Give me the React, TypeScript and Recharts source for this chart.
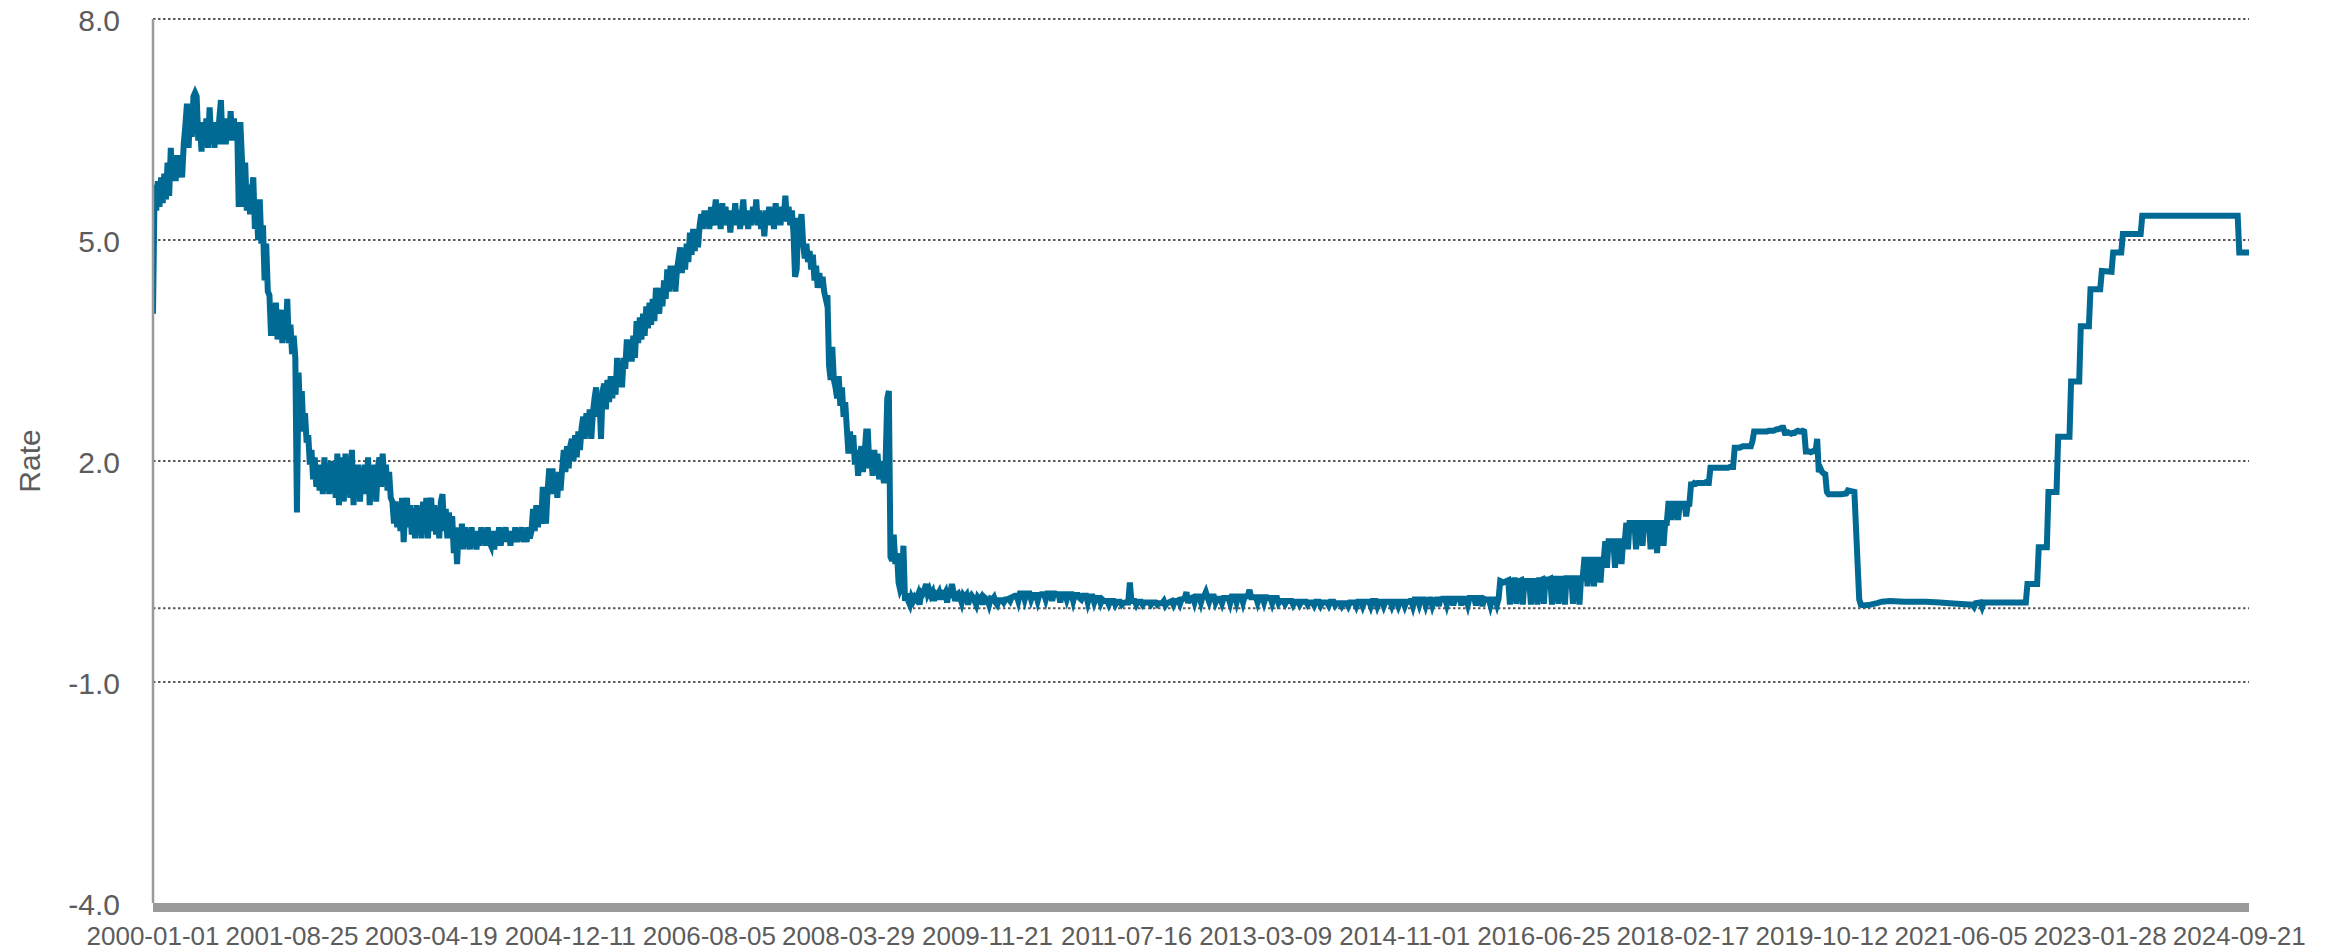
import React from 'react';
import { LineChart, Line, XAxis, YAxis, CartesianGrid } from 'recharts';

// ---------- tick labels ----------
const xTickLabels = [
  '2000-01-01', '2001-08-25', '2003-04-19', '2004-12-11', '2006-08-05', '2008-03-29',
  '2009-11-21', '2011-07-16', '2013-03-09', '2014-11-01', '2016-06-25', '2018-02-17',
  '2019-10-12', '2021-06-05', '2023-01-28', '2024-09-21',
];
const yTicks = [-4, -1, 2, 5, 8];
const gridValues = [-1, 0, 2, 5, 8];
const lastDate = '2024-11-02';

// ---------- weekly readings (each array starts on the given Saturday) ----------
const rates2000 = [4.0, 5.75, 5.4, 5.8, 5.45, 5.85, 5.5, 5.9, 5.55, 6.05, 5.6, 6.25, 5.8, 6.1, 5.8, 6.15, 5.85, 6.1, 5.85, 6.3, 6.55, 6.85, 6.25, 6.75, 6.4, 6.95, 7.0, 6.95, 6.35, 6.6, 6.2, 6.6, 6.3, 6.65, 6.25, 6.8, 6.35, 6.6, 6.25, 6.6, 6.3, 6.65, 6.9, 6.3, 6.65, 6.3, 6.6, 6.35, 6.75, 6.35, 6.65, 6.4, 6.6];
const rates2001 = [5.45, 6.6, 6.1, 5.45, 6.05, 5.4, 5.75, 5.35, 5.6, 5.85, 5.15, 5.5, 5.0, 5.55, 4.95, 5.2, 4.45, 4.95, 4.3, 4.25, 3.7, 4.1, 3.7, 4.15, 3.65, 3.95, 4.05, 3.6, 3.95, 3.65, 4.2, 3.6, 3.85, 3.45, 3.7, 3.4, 1.3, 3.2, 2.6, 2.95, 2.4, 2.65, 2.25, 2.35, 1.95, 2.15, 1.75, 2.05, 1.65, 1.9, 1.6, 1.95];
const rates2002 = [1.55, 2.05, 1.6, 1.95, 1.55, 2.0, 1.6, 1.9, 1.5, 2.1, 1.4, 1.85, 2.05, 1.45, 2.1, 1.55, 1.9, 1.5, 2.15, 1.4, 1.85, 1.6, 1.95, 1.45, 1.9, 1.55, 1.95, 1.7, 2.05, 1.4, 1.9, 1.55, 1.95, 1.45, 1.9, 2.05, 1.65, 2.1, 1.75, 1.95, 1.6, 1.85, 1.5, 1.45, 1.15, 1.45, 1.1, 1.4, 1.05, 1.5, 0.9, 1.35];
const rates2003 = [1.5, 1.1, 1.4, 1.0, 1.35, 0.95, 1.4, 1.1, 1.35, 0.95, 1.45, 1.05, 1.5, 0.95, 1.4, 1.5, 1.05, 1.4, 1.0, 1.35, 0.95, 1.45, 1.55, 1.05, 1.35, 0.95, 1.3, 1.0, 1.25, 0.75, 1.1, 0.6, 1.05, 0.8, 1.15, 0.8, 1.1, 0.85, 1.05, 0.8, 1.1, 0.85, 1.05, 0.8, 1.05, 0.85, 1.1, 0.9, 1.05, 0.85, 1.1, 0.9];
const rates2004 = [0.85, 1.05, 0.8, 1.05, 0.9, 1.1, 0.85, 1.05, 0.95, 1.1, 0.9, 1.05, 0.85, 1.05, 0.9, 1.1, 0.9, 1.05, 0.95, 1.1, 0.9, 1.05, 0.9, 1.1, 0.95, 1.05, 1.35, 1.05, 1.4, 1.1, 1.35, 1.15, 1.65, 1.3, 1.15, 1.6, 1.9, 1.55, 1.9, 1.55, 1.8, 1.5, 1.85, 1.6, 1.9, 2.15, 1.85, 2.2, 1.9, 2.2, 2.3, 2.0];
const rates2005 = [2.35, 2.05, 2.4, 2.15, 2.45, 2.6, 2.3, 2.65, 2.35, 2.7, 2.3, 2.65, 2.85, 3.0, 2.6, 2.9, 2.3, 2.95, 3.05, 2.7, 3.1, 2.8, 3.15, 2.85, 3.15, 2.9, 3.4, 3.05, 3.35, 3.0, 3.4, 3.25, 3.65, 3.35, 3.65, 3.35, 3.7, 3.4, 3.9, 3.6, 3.95, 3.65, 4.0, 3.7, 4.1, 3.8, 4.15, 3.85, 4.2, 3.9, 4.35, 4.1, 4.0];
const rates2006 = [4.35, 4.1, 4.45, 4.2, 4.6, 4.3, 4.65, 4.35, 4.65, 4.3, 4.6, 4.75, 4.9, 4.55, 4.85, 4.6, 4.95, 4.7, 5.1, 4.8, 5.15, 4.85, 5.15, 4.9, 5.2, 5.35, 5.15, 5.4, 5.2, 5.35, 5.15, 5.45, 5.2, 5.35, 5.55, 5.2, 5.4, 5.15, 5.5, 5.2, 5.45, 5.25, 5.4, 5.1, 5.4, 5.2, 5.5, 5.2, 5.4, 5.15, 5.35, 5.55];
const rates2007 = [5.2, 5.4, 5.15, 5.35, 5.2, 5.45, 5.25, 5.55, 5.2, 5.4, 5.15, 5.35, 5.05, 5.4, 5.2, 5.45, 5.2, 5.4, 5.15, 5.5, 5.25, 5.4, 5.2, 5.45, 5.3, 5.6, 5.25, 5.45, 5.2, 5.4, 5.1, 4.5, 4.6, 5.3, 5.2, 5.35, 4.95, 4.75, 4.95, 4.7, 4.85, 4.6, 4.8, 4.45, 4.65, 4.35, 4.55, 4.35, 4.5, 4.3, 4.2, 4.25];
const rates2008 = [3.3, 3.1, 3.55, 3.1, 3.0, 2.85, 3.15, 2.75, 3.0, 2.6, 2.8, 2.45, 2.1, 2.4, 2.1, 2.35, 1.95, 2.15, 1.8, 2.05, 2.2, 1.85, 2.1, 2.4, 2.4, 1.9, 2.05, 1.8, 2.15, 1.9, 2.1, 1.75, 2.0, 1.85, 1.7, 2.0, 2.85, 2.95, 0.7, 0.65, 1.0, 0.6, 0.75, 0.35, 0.25, 0.3, 0.85, 0.1, 0.2, 0.1, 0.05, 0.15];
const rates2009 = [0.1, 0.15, 0.12, 0.18, 0.05, 0.22, 0.2, 0.25, 0.33, 0.2, 0.25, 0.18, 0.22, 0.1, 0.2, 0.18, 0.22, 0.12, 0.2, 0.18, 0.22, 0.08, 0.22, 0.2, 0.33, 0.22, 0.1, 0.18, 0.2, 0.15, 0.08, 0.18, 0.15, 0.18, 0.05, 0.15, 0.18, 0.15, 0.1, 0.05, 0.15, 0.12, 0.15, 0.05, 0.15, 0.13, 0.12, 0.05, 0.13, 0.12, 0.15, 0.08];
const rates2010 = [0.05, 0.11, 0.11, 0.11, 0.08, 0.12, 0.12, 0.13, 0.1, 0.15, 0.16, 0.17, 0.17, 0.1, 0.2, 0.2, 0.2, 0.12, 0.2, 0.2, 0.2, 0.12, 0.18, 0.18, 0.18, 0.1, 0.18, 0.19, 0.19, 0.19, 0.12, 0.2, 0.2, 0.2, 0.1, 0.2, 0.2, 0.19, 0.19, 0.08, 0.19, 0.19, 0.19, 0.12, 0.19, 0.19, 0.19, 0.1, 0.18, 0.18, 0.18, 0.14];
const rates2011 = [0.12, 0.17, 0.17, 0.17, 0.08, 0.16, 0.16, 0.16, 0.08, 0.14, 0.14, 0.14, 0.07, 0.12, 0.1, 0.1, 0.1, 0.05, 0.1, 0.1, 0.1, 0.05, 0.09, 0.09, 0.09, 0.05, 0.07, 0.08, 0.08, 0.08, 0.35, 0.1, 0.1, 0.1, 0.05, 0.09, 0.09, 0.09, 0.05, 0.08, 0.08, 0.08, 0.08, 0.05, 0.08, 0.08, 0.08, 0.05, 0.07, 0.07, 0.07, 0.1, 0.04];
const rates2012 = [0.07, 0.08, 0.09, 0.1, 0.05, 0.1, 0.1, 0.11, 0.06, 0.12, 0.13, 0.14, 0.22, 0.07, 0.14, 0.14, 0.15, 0.08, 0.16, 0.16, 0.16, 0.08, 0.16, 0.17, 0.22, 0.15, 0.09, 0.16, 0.16, 0.16, 0.08, 0.13, 0.13, 0.13, 0.07, 0.14, 0.14, 0.14, 0.14, 0.07, 0.16, 0.16, 0.16, 0.08, 0.16, 0.16, 0.16, 0.08, 0.16, 0.16, 0.17, 0.25];
const rates2013 = [0.15, 0.15, 0.15, 0.15, 0.08, 0.15, 0.15, 0.15, 0.08, 0.15, 0.15, 0.14, 0.14, 0.07, 0.14, 0.14, 0.14, 0.07, 0.1, 0.1, 0.1, 0.06, 0.1, 0.1, 0.1, 0.1, 0.05, 0.09, 0.09, 0.09, 0.05, 0.09, 0.09, 0.09, 0.09, 0.05, 0.08, 0.08, 0.08, 0.04, 0.09, 0.09, 0.09, 0.04, 0.08, 0.08, 0.08, 0.08, 0.04, 0.09, 0.09, 0.09];
const rates2014 = [0.04, 0.07, 0.07, 0.07, 0.03, 0.07, 0.07, 0.07, 0.03, 0.08, 0.08, 0.08, 0.08, 0.03, 0.09, 0.09, 0.09, 0.03, 0.09, 0.09, 0.09, 0.09, 0.03, 0.1, 0.1, 0.1, 0.03, 0.09, 0.09, 0.09, 0.03, 0.09, 0.09, 0.09, 0.09, 0.03, 0.09, 0.09, 0.09, 0.03, 0.09, 0.09, 0.09, 0.03, 0.09, 0.09, 0.1, 0.1, 0.03, 0.12, 0.12, 0.12];
const rates2015 = [0.05, 0.12, 0.12, 0.12, 0.04, 0.11, 0.12, 0.12, 0.04, 0.11, 0.12, 0.12, 0.03, 0.12, 0.13, 0.13, 0.13, 0.05, 0.13, 0.13, 0.13, 0.04, 0.13, 0.13, 0.13, 0.13, 0.04, 0.13, 0.13, 0.13, 0.05, 0.14, 0.14, 0.14, 0.14, 0.04, 0.14, 0.14, 0.14, 0.03, 0.13, 0.12, 0.12, 0.12, 0.04, 0.12, 0.12, 0.12, 0.05, 0.13, 0.37, 0.36];
const rates2016 = [0.35, 0.36, 0.37, 0.38, 0.05, 0.37, 0.38, 0.38, 0.06, 0.37, 0.37, 0.38, 0.05, 0.37, 0.37, 0.37, 0.37, 0.05, 0.37, 0.37, 0.37, 0.05, 0.38, 0.38, 0.39, 0.06, 0.39, 0.39, 0.39, 0.4, 0.05, 0.4, 0.4, 0.4, 0.06, 0.4, 0.4, 0.4, 0.05, 0.41, 0.41, 0.41, 0.41, 0.06, 0.41, 0.41, 0.41, 0.05, 0.41, 0.41, 0.66, 0.66, 0.3];
const rates2017 = [0.66, 0.66, 0.66, 0.3, 0.66, 0.66, 0.66, 0.35, 0.66, 0.66, 0.91, 0.55, 0.91, 0.91, 0.91, 0.91, 0.55, 0.91, 0.91, 0.91, 0.6, 0.91, 0.91, 1.16, 0.8, 1.16, 1.16, 1.16, 1.16, 0.8, 1.16, 1.16, 1.16, 0.85, 1.16, 1.16, 1.16, 1.16, 0.8, 1.16, 1.16, 1.16, 0.75, 1.16, 1.16, 1.16, 0.85, 1.16, 1.16, 1.42, 1.42, 1.2];
const rates2018 = [1.42, 1.42, 1.42, 1.2, 1.42, 1.42, 1.42, 1.42, 1.25, 1.42, 1.42, 1.68, 1.68, 1.7, 1.69, 1.7, 1.7, 1.7, 1.7, 1.7, 1.71, 1.7, 1.7, 1.91, 1.91, 1.91, 1.91, 1.91, 1.91, 1.91, 1.91, 1.91, 1.91, 1.91, 1.91, 1.92, 1.92, 1.92, 2.18, 2.18, 2.18, 2.18, 2.19, 2.2, 2.2, 2.2, 2.2, 2.2, 2.2, 2.27, 2.4, 2.4];
const rates2019 = [2.4, 2.4, 2.4, 2.4, 2.4, 2.4, 2.4, 2.41, 2.41, 2.41, 2.41, 2.42, 2.43, 2.43, 2.44, 2.45, 2.45, 2.38, 2.38, 2.39, 2.38, 2.37, 2.38, 2.38, 2.4, 2.41, 2.4, 2.4, 2.41, 2.4, 2.13, 2.13, 2.13, 2.12, 2.13, 2.14, 2.13, 2.3, 1.85, 1.9, 1.85, 1.83, 1.82, 1.58, 1.55, 1.55, 1.55, 1.55, 1.55, 1.55, 1.55, 1.55];

// ---------- 2020 onwards: readings at the dates where the level changes ----------
const steps2020to2024: [string, number][] = [
  ['2020-01-04', 1.55], ['2020-01-25', 1.56], ['2020-02-01', 1.6], ['2020-02-29', 1.58],
  ['2020-03-07', 1.1], ['2020-03-14', 0.6], ['2020-03-21', 0.12], ['2020-03-28', 0.05],
  ['2020-04-11', 0.04], ['2020-05-09', 0.05], ['2020-06-06', 0.07], ['2020-06-27', 0.09],
  ['2020-08-01', 0.1], ['2020-10-03', 0.09], ['2021-01-02', 0.09], ['2021-03-06', 0.08],
  ['2021-04-17', 0.07], ['2021-06-05', 0.06], ['2021-07-24', 0.05], ['2021-07-31', 0.02],
  ['2021-08-07', 0.07], ['2021-08-28', 0.08], ['2021-09-04', 0.02], ['2021-09-11', 0.08],
  ['2021-10-16', 0.08], ['2022-03-12', 0.08], ['2022-03-19', 0.33], ['2022-04-30', 0.33],
  ['2022-05-07', 0.83], ['2022-06-11', 0.83], ['2022-06-18', 1.58], ['2022-07-23', 1.58],
  ['2022-07-30', 2.33], ['2022-09-17', 2.33], ['2022-09-24', 3.08], ['2022-10-29', 3.08],
  ['2022-11-05', 3.83], ['2022-12-10', 3.83], ['2022-12-17', 4.33], ['2023-01-28', 4.33],
  ['2023-02-04', 4.58], ['2023-03-18', 4.57], ['2023-03-25', 4.83], ['2023-04-29', 4.83],
  ['2023-05-06', 5.08], ['2023-07-22', 5.08], ['2023-07-29', 5.33], ['2024-09-14', 5.33],
  ['2024-09-21', 4.83], ['2024-11-02', 4.83],
];

const weeklyBlocks: [string, number[]][] = [
  ['2000-01-01', rates2000], ['2001-01-06', rates2001], ['2002-01-05', rates2002],
  ['2003-01-04', rates2003], ['2004-01-03', rates2004], ['2005-01-01', rates2005],
  ['2006-01-07', rates2006], ['2007-01-06', rates2007], ['2008-01-05', rates2008],
  ['2009-01-03', rates2009], ['2010-01-02', rates2010], ['2011-01-01', rates2011],
  ['2012-01-07', rates2012], ['2013-01-05', rates2013], ['2014-01-04', rates2014],
  ['2015-01-03', rates2015], ['2016-01-02', rates2016], ['2017-01-07', rates2017],
  ['2018-01-06', rates2018], ['2019-01-05', rates2019],
];

// ---------- build table ----------
const ORIGIN = Date.UTC(2000, 0, 1);
const toDay = (s: string): number => {
  const [y, m, d] = s.split('-').map(Number);
  return Math.round((Date.UTC(y, m - 1, d) - ORIGIN) / 86400000);
};

const data: { d: number; rate: number }[] = [];
weeklyBlocks.forEach(([start, vals]) => {
  const d0 = toDay(start);
  vals.forEach((v, i) => data.push({ d: d0 + 7 * i, rate: v }));
});
steps2020to2024.forEach(([s, v]) => data.push({ d: toDay(s), rate: v }));
data.sort((a, b) => a.d - b.d);

const xTickDays = xTickLabels.map(toDay);
const xDomainEnd = toDay(lastDate);

const FONT = '"Liberation Sans", Arial, Helvetica, sans-serif';
const TEXT = '#5c5c5c';

const XTick = (props: any) => {
  const { x, y, payload } = props;
  const idx = xTickDays.indexOf(payload.value);
  return (
    <text x={x} y={y + 42} textAnchor="middle" fontSize={26} fill={TEXT} fontFamily={FONT}>
      {idx >= 0 ? xTickLabels[idx] : ''}
    </text>
  );
};

const YTick = (props: any) => {
  const { x, y, payload } = props;
  return (
    <text x={x - 33} y={y + 12} textAnchor="end" fontSize={30} fill={TEXT} fontFamily={FONT}>
      {Number(payload.value).toFixed(1)}
    </text>
  );
};

const RateLabel = () => (
  <text
    x={40}
    y={461}
    transform="rotate(-90 40 461)"
    textAnchor="middle"
    fontSize={30}
    fill={TEXT}
    fontFamily={FONT}
  >
    Rate
  </text>
);

export default function App() {
  return (
    <div style={{ position: 'absolute', left: 0, top: 0, width: 2334, height: 950, background: '#fff' }}>
      <LineChart
        width={2334}
        height={950}
        data={data}
        margin={{ top: 19, right: 85, bottom: 0, left: 0 }}
      >
        <CartesianGrid
          vertical={false}
          horizontalValues={gridValues}
          stroke="#5a5a5a"
          strokeWidth={2}
          strokeDasharray="2.5 2.5"
        />
        <XAxis
          type="number"
          dataKey="d"
          domain={[0, xDomainEnd]}
          ticks={xTickDays}
          interval={0}
          height={47}
          tickSize={0}
          tickMargin={0}
          tickLine={false}
          tick={<XTick />}
          axisLine={{ stroke: '#9a9a9a', strokeWidth: 9, transform: 'translate(0,4.5)' }}
          allowDataOverflow
        />
        <YAxis
          type="number"
          domain={[-4, 8]}
          ticks={yTicks}
          interval={0}
          width={153}
          tickSize={0}
          tickMargin={0}
          tickLine={false}
          tick={<YTick />}
          axisLine={{ stroke: '#9a9a9a', strokeWidth: 2.5 }}
          label={<RateLabel />}
          allowDataOverflow
        />
        <Line
          type="linear"
          dataKey="rate"
          stroke="#006994"
          strokeWidth={6}
          dot={false}
          activeDot={false}
          isAnimationActive={false}
        />
      </LineChart>
    </div>
  );
}
